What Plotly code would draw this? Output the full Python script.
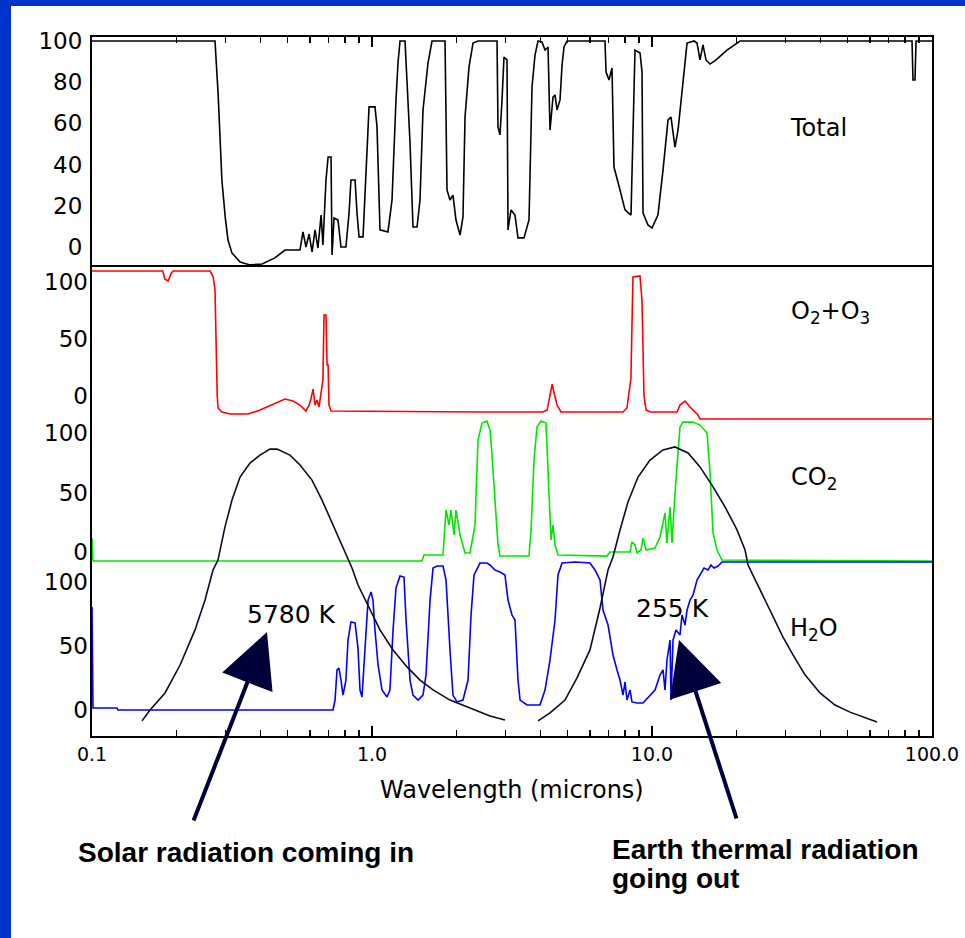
import plotly.graph_objects as go

# ---------------- data ----------------
# Wavelength in microns, absorption in percent (axis units of each panel)
TOTAL_WL = [0.1, 0.275, 0.282, 0.287, 0.291, 0.299, 0.306, 0.316, 0.338, 0.367,
            0.405, 0.450, 0.489, 0.553, 0.567, 0.581, 0.596, 0.611, 0.626, 0.641,
            0.658, 0.668, 0.685, 0.697, 0.714, 0.720, 0.732, 0.756, 0.775, 0.807,
            0.828, 0.841, 0.870, 0.884, 0.899, 0.929, 0.960, 0.976, 1.025, 1.042,
            1.068, 1.140, 1.179, 1.189, 1.218, 1.239, 1.259, 1.312, 1.334, 1.367,
            1.401, 1.448, 1.484, 1.521, 1.585, 1.638, 1.823, 1.853, 1.899, 1.946,
            1.995, 2.063, 2.113, 2.149, 2.221, 2.295, 2.391, 2.796, 2.818, 2.865,
            2.913, 2.961, 3.035, 3.060, 3.137, 3.241, 3.322, 3.490, 3.637, 3.728,
            3.821, 3.917, 4.047, 4.149, 4.253, 4.323, 4.431, 4.504, 4.579, 4.693,
            4.772, 4.851, 4.972, 6.795, 6.851, 7.021, 7.197, 7.315, 7.687, 8.010,
            8.414, 8.553, 8.695, 9.063, 9.212, 9.289, 9.676, 10.0, 10.50, 10.95,
            11.41, 11.69, 12.08, 12.39, 12.80, 13.34, 14.13, 14.48, 14.84, 15.21,
            15.59, 16.12, 16.93, 18.53, 20.63, 84.84, 85.53, 86.95, 87.7, 100]
TOTAL_ABS = [100, 100, 74.8, 53.4, 32.5, 14.6, 3.4, -2.9, -7.3, -8.7,
             -8.3, -5.3, -1.5, -1.5, 7.3, 0.0, 6.3, -2.4, 8.3, -0.5,
             15.5, 1.0, 32.5, 43.7, 43.7, -3.9, 14.1, 13.1, 0.0, 0.0,
             16.5, 32.5, 32.5, 16.5, 4.9, 4.9, 45.6, 68.0, 68.0, 58.3,
             8.3, 7.3, 22.8, 37.4, 71.4, 89.8, 100, 100, 79.6, 50.5,
             9.7, 9.7, 22.8, 66.5, 89.3, 100, 100, 27.7, 22.8, 25.2,
             13.1, 5.8, 14.6, 63.1, 87.4, 99.0, 100, 100, 58.3, 54.4,
             71.4, 92.2, 90.8, 8.3, 18.0, 15.5, 4.4, 4.4, 13.1, 77.7,
             93.2, 100, 99.5, 95.6, 97.1, 56.8, 72.8, 73.8, 66.5, 71.4,
             88.3, 97.1, 100, 100, 85.0, 81.1, 86.9, 38.8, 27.7, 18.0,
             15.5, 51.9, 95.6, 94.2, 85.0, 16.5, 10.7, 9.2, 15.5, 37.4,
             61.7, 63.1, 48.5, 56.8, 76.2, 99.0, 100, 99.0, 90.8, 98.1,
             90.8, 88.8, 90.8, 95.6, 100, 100, 81.1, 81.1, 100, 100]

O2O3_WL = [0.1, 0.179, 0.182, 0.187, 0.192, 0.195, 0.264, 0.271, 0.275, 0.277,
           0.280, 0.282, 0.291, 0.311, 0.361, 0.398, 0.450, 0.489, 0.522, 0.553,
           0.581, 0.596, 0.605, 0.616, 0.626, 0.636, 0.647, 0.658, 0.668, 0.674,
           0.685, 0.691, 0.697, 0.702, 0.714, 2.431, 4.08, 4.22, 4.32, 4.40,
           4.47, 4.58, 4.73, 7.88, 8.14, 8.41, 8.55, 9.06, 9.21, 9.36,
           9.52, 9.84, 12.29, 12.59, 13.12, 13.67, 14.60, 14.84, 100]
O2O3_ABS = [109.6, 109.6, 102.6, 100.9, 107.9, 109.6, 109.6, 104.4, 93.0, 49.1,
            0.9, -10.5, -14.0, -15.8, -15.8, -12.3, -6.1, -2.6, -4.4, -7.9,
            -13.2, -7.9, -2.6, 6.1, -7.9, -3.5, -9.6, 0.9, 14.0, 71.1,
            71.1, 27.2, 27.2, -7.9, -13.2, -14.0, -14.0, -12.3, 2.6, 10.5,
            2.6, -7.9, -14.0, -14.0, -10.5, 15.8, 104.4, 105.3, 84.2, 0.9,
            -12.3, -14.0, -14.0, -7.9, -4.4, -9.6, -16.7, -20.2, -20.2]

CO2_WL = [0.1, 0.1008, 1.509, 1.534, 1.793, 1.838, 1.884, 1.915, 1.963, 1.995,
          2.063, 2.149, 2.239, 2.333, 2.391, 2.471, 2.574, 2.639, 2.683, 2.749,
          2.818, 2.865, 3.637, 3.698, 3.790, 3.884, 4.014, 4.182, 4.253, 4.359,
          4.431, 4.504, 4.617, 6.906, 7.079, 8.346, 8.484, 8.695, 8.842, 9.137,
          9.289, 9.519, 10.25, 10.68, 11.13, 11.31, 11.60, 11.79, 12.08, 12.59,
          12.90, 14.01, 14.84, 15.72, 16.12, 16.52, 17.07, 17.78, 100]
CO2_ABS = [11.8, -7.6, -7.6, -2.5, -2.5, 35.3, 22.7, 35.3, 14.3, 35.3,
           14.3, -0.8, -0.8, 22.7, 94.1, 108.4, 110.1, 102.5, 81.5, 43.7,
           5.9, -3.4, -3.4, 18.5, 77.3, 105.0, 110.1, 108.4, 68.9, 10.1,
           22.7, 5.9, -2.5, -3.4, 0.0, 0.0, 8.4, 5.9, -0.8, 1.7,
           11.8, 1.7, 3.4, 12.6, 32.8, 7.6, 37.8, 7.6, 49.6, 105.0,
           109.2, 109.2, 106.7, 100.0, 66.4, 16.0, 1.7, -6.7, -7.6]

H2O_WL = [0.1, 0.1008, 0.1228, 0.1238, 0.7256, 0.738, 0.750, 0.762, 0.775, 0.788,
          0.807, 0.821, 0.841, 0.870, 0.891, 0.906, 0.921, 0.944, 0.968, 0.992,
          1.008, 1.025, 1.051, 1.086, 1.131, 1.159, 1.189, 1.218, 1.259, 1.301,
          1.323, 1.367, 1.401, 1.460, 1.521, 1.559, 1.612, 1.652, 1.707, 1.793,
          1.838, 1.899, 1.946, 2.012, 2.113, 2.203, 2.258, 2.314, 2.391, 2.431,
          2.574, 2.639, 2.749, 2.865, 2.985, 3.060, 3.162, 3.241, 3.322, 3.379,
          3.578, 3.981, 4.149, 4.323, 4.504, 4.617, 4.772, 5.309, 6.005, 6.258,
          6.521, 6.683, 6.966, 7.256, 7.499, 7.687, 7.88, 8.01, 8.14, 8.35,
          8.48, 8.84, 9.29, 9.84, 10.25, 10.68, 10.95, 11.13, 11.31, 11.60,
          11.69, 11.89, 12.18, 12.59, 12.80, 13.12, 13.34, 13.67, 14.01, 14.48,
          14.84, 15.34, 15.85, 16.24, 16.65, 17.21, 17.78, 100]
H2O_ABS = [80.5, 1.6, 1.6, 0.0, 0.0, 7.8, 31.3, 32.8, 23.4, 11.7,
           23.4, 54.7, 68.8, 68.0, 48.4, 15.6, 10.2, 46.9, 85.9, 92.2,
           85.9, 62.5, 35.2, 15.6, 10.2, 15.6, 62.5, 95.3, 104.7, 103.9,
           70.3, 23.4, 11.7, 7.8, 11.7, 27.3, 85.9, 110.9, 112.5, 112.5,
           101.6, 46.9, 11.7, 6.3, 7.8, 23.4, 74.2, 105.5, 112.5, 114.8,
           114.8, 113.3, 109.4, 107.8, 105.5, 85.9, 74.2, 70.3, 23.4, 7.8,
           3.9, 3.9, 15.6, 39.1, 70.3, 105.5, 114.8, 115.6, 114.8, 109.4,
           101.6, 78.1, 66.4, 43.0, 31.3, 23.4, 11.7, 21.9, 7.8, 15.6,
           6.3, 5.5, 5.5, 11.7, 15.6, 27.3, 31.3, 15.6, 39.1, 54.7,
           7.8, 54.7, 62.5, 58.6, 74.2, 66.4, 78.1, 85.9, 89.8, 101.6,
           105.5, 110.9, 109.4, 113.3, 110.9, 112.5, 115.6, 115.6]

# Black-body curves (relative intensity, peak ~100)
SUN_WL = [0.1509, 0.1612, 0.1823, 0.2063, 0.2333, 0.2533, 0.2705, 0.2818, 0.2985, 0.3162,
          0.3379, 0.3667, 0.3981, 0.4322, 0.4579, 0.5094, 0.5532, 0.6105, 0.6629, 0.7256,
          0.8010, 0.8484, 0.8913, 0.9837, 1.068, 1.189, 1.334, 1.484, 1.652, 1.899,
          2.185, 2.431, 2.639, 2.985]
SUN_INT = [0.4, 4.4, 10.6, 20.8, 33.6, 44.5, 55.5, 59.1, 71.2, 81.0,
           89.4, 94.5, 97.4, 99.6, 99.6, 97.4, 93.8, 88.3, 81.0, 71.9,
           61.7, 56.2, 50.0, 40.9, 33.6, 26.3, 20.1, 15.3, 11.7, 8.0,
           5.5, 3.6, 2.2, 0.7]
EARTH_WL = [3.917, 4.323, 4.890, 5.397, 6.005, 6.521, 6.966, 7.256, 7.687, 8.209,
            8.913, 9.837, 10.95, 12.08, 13.45, 14.84, 16.52, 18.23, 20.12, 21.49,
            22.03, 24.31, 27.05, 29.37, 31.89, 35.19, 39.81, 45.03, 50.94, 63.63]
EARTH_INT = [0.4, 3.3, 8.0, 16.1, 26.3, 41.6, 55.5, 60.2, 70.1, 80.3,
             89.4, 95.6, 99.3, 100.4, 98.2, 93.1, 85.8, 78.5, 70.1, 62.8,
             57.3, 48.2, 38.3, 31.0, 24.5, 17.2, 10.6, 6.2, 3.6, 0.0]

X_TICKS = [0.1, 1, 10, 100]
X_TICK_TEXT = ["0.1", "1.0", "10.0", "100.0"]
TOTAL_TICKS = [0, 20, 40, 60, 80, 100]
GAS_TICKS = [0, 50, 100]

# ---------------- figure ----------------
W, H = 965, 938
ML, MR, MT, MB = 92, 33, 37, 202
PW, PH = W - ML - MR, H - MT - MB


def px(xp):
    return (xp - ML) / PW


def py(yp):
    return (MT + PH - yp) / PH


AXFONT = "DejaVu Sans"
BOLD = "Liberation Sans, Arial, sans-serif"

fig = go.Figure()
fig.add_trace(go.Scatter(x=TOTAL_WL, y=TOTAL_ABS, yaxis="y", mode="lines",
                         line=dict(color="#000000", width=1.6)))
fig.add_trace(go.Scatter(x=O2O3_WL, y=O2O3_ABS, yaxis="y2", mode="lines",
                         line=dict(color="#ff0000", width=1.6)))
fig.add_trace(go.Scatter(x=CO2_WL, y=CO2_ABS, yaxis="y3", mode="lines",
                         line=dict(color="#00e600", width=1.6)))
fig.add_trace(go.Scatter(x=H2O_WL, y=H2O_ABS, yaxis="y4", mode="lines",
                         line=dict(color="#0000ff", width=1.6)))
fig.add_trace(go.Scatter(x=SUN_WL, y=SUN_INT, yaxis="y5", mode="lines",
                         line=dict(color="#0a0a28", width=1.6)))
fig.add_trace(go.Scatter(x=EARTH_WL, y=EARTH_INT, yaxis="y5", mode="lines",
                         line=dict(color="#0a0a28", width=1.6)))

minor_vals = [m * 10.0 ** e for e in (-1, 0, 1) for m in range(2, 10)]

common_y = dict(showgrid=False, zeroline=False, ticks="", side="left",
                ticklabelstandoff=3,
                tickfont=dict(family=AXFONT, size=23, color="black"),
                automargin=False, fixedrange=True)

fig.update_layout(
    template="none",
    width=W, height=H,
    margin=dict(l=ML, r=MR, t=MT, b=MB, pad=0),
    paper_bgcolor="white", plot_bgcolor="white",
    showlegend=False,
    font=dict(family=AXFONT, color="black"),
    xaxis=dict(type="log", range=[-1, 2], tickvals=X_TICKS, ticktext=X_TICK_TEXT,
               ticks="inside", ticklen=10, tickwidth=1.5, tickcolor="black",
               minor=dict(tickvals=minor_vals, ticks="inside", ticklen=6,
                          tickwidth=1.5, tickcolor="black", showgrid=False),
               mirror="ticks", showline=True, linecolor="black", linewidth=2,
               showgrid=False, zeroline=False, automargin=False, fixedrange=True,
               tickfont=dict(family=AXFONT, size=19, color="black")),
    yaxis=dict(range=[-237.4, 101.94], tickvals=TOTAL_TICKS,
               showline=True, mirror=True, linecolor="black", linewidth=2,
               **common_y),
    yaxis2=dict(range=[-298.2, 314.9], tickvals=GAS_TICKS, overlaying="y",
                showline=False, **common_y),
    yaxis3=dict(range=[-154.6, 432.8], tickvals=GAS_TICKS, overlaying="y",
                showline=False, **common_y),
    yaxis4=dict(range=[-20.3, 525.8], tickvals=GAS_TICKS, overlaying="y",
                showline=False, **common_y),
    yaxis5=dict(range=[-5.11, 250.0], overlaying="y", visible=False,
                fixedrange=True),
)

# frame pieces: blue page border and panel divider
shapes = [
    dict(type="rect", xref="paper", yref="paper", x0=px(0), x1=px(11),
         y0=py(H), y1=py(0), fillcolor="#0033cc", line=dict(width=0), layer="above"),
    dict(type="rect", xref="paper", yref="paper", x0=px(0), x1=px(W),
         y0=py(6), y1=py(0), fillcolor="#0033cc", line=dict(width=0), layer="above"),
    dict(type="line", xref="paper", yref="paper", x0=0, x1=1, y0=py(266), y1=py(266),
         line=dict(color="black", width=2)),
]
fig.update_layout(shapes=shapes)

ann = []


def label(text, x, y, size=24, xanchor="left", family=AXFONT, height=None):
    a = dict(text=text, xref="paper", yref="paper", x=px(x), y=py(y),
             xanchor=xanchor, yanchor="middle", showarrow=False,
             font=dict(family=family, size=size, color="black"))
    if height:
        a["height"] = height
        a["valign"] = "middle"
    ann.append(a)


label("Total", 788, 128)
label("O<sub>2</sub>+O<sub>3</sub>", 789, 312)
label("CO<sub>2</sub>", 789, 478)
label("H<sub>2</sub>O", 788, 629)
label("5780 K", 291, 614, size=25, xanchor="center")
label("255 K", 672, 608, size=25, xanchor="center")
label("Wavelength (microns)", 512, 790, size=24, xanchor="center")
label("<b>Solar radiation coming in</b>", 76, 852, size=28, family=BOLD)
label("<b>Earth thermal radiation</b>", 610, 849, size=28, family=BOLD, height=26)
label("<b>going out</b>", 610, 878, size=28, family=BOLD, height=31)

ARROW = "#00003a"
ann.append(dict(text="", xref="paper", yref="paper", x=px(267), y=py(632),
                ax=-74, ay=190, showarrow=True, arrowhead=2, arrowsize=2.7,
                arrowwidth=4, arrowcolor=ARROW, standoff=0))
ann.append(dict(text="", xref="paper", yref="paper", x=px(679), y=py(640),
                ax=58, ay=180, showarrow=True, arrowhead=2, arrowsize=2.7,
                arrowwidth=4, arrowcolor=ARROW, standoff=0))
fig.update_layout(annotations=ann)

fig.write_html("out.html",
               config={"displayModeBar": False, "staticPlot": True},
               post_script="document.body.style.margin='0px';"
                           "document.body.style.overflow='hidden';")
